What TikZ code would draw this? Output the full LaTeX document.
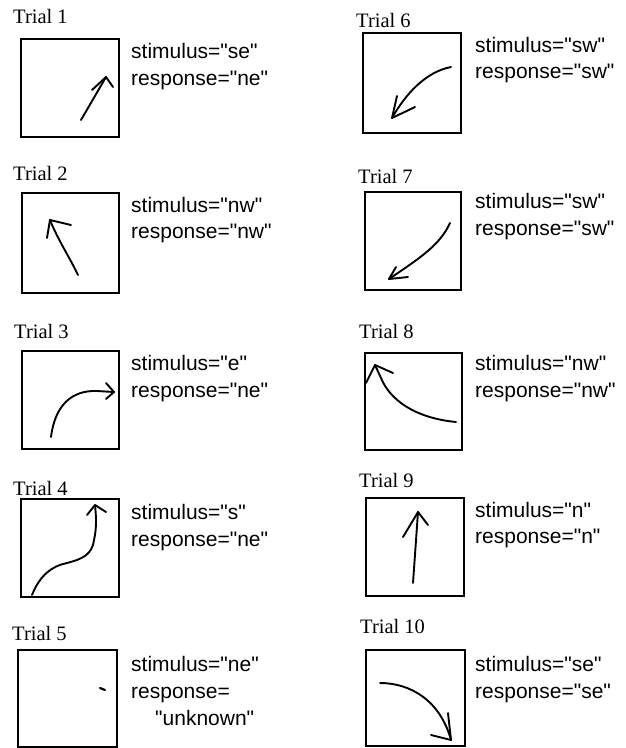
\documentclass[tikz,border=0pt]{standalone}
\usepackage{fontspec}
\setmainfont{Liberation Serif}
\setsansfont{Liberation Sans}[Ligatures=TeXOff]
\begin{document}
\begin{tikzpicture}[x=1pt,y=-1pt,
  panel/.style={draw=black,line width=1.5pt,inner sep=0pt,outer sep=0pt,anchor=north west},
  trial/.style={anchor=base west,inner sep=0pt,font=\fontsize{20.5}{24}\selectfont},
  info/.style={anchor=base west,inner sep=0pt,font=\sffamily\fontsize{21}{26}\selectfont},
  pen/.style={line width=1.9pt,line cap=round,line join=round}]
\useasboundingbox (0,0) rectangle (626,748);
% ---------- left column ----------
\node[trial] (t1) at (13,23) {Trial 1};
\node[panel,minimum width=98pt,minimum height=98pt] (b1) at (21,39) {};
\node[info] (s1) at (131,58) {stimulus="se"};
\node[info] (r1) at (131,85) {response="ne"};
\draw[pen] (81,120) -- (106,77);
\draw[pen] (92,90) -- (106,77) -- (113,87);

\node[trial] (t2) at (13,180) {Trial 2};
\node[panel,minimum width=97pt,minimum height=100pt] (b2) at (22,193) {};
\node[info] (s2) at (131,212) {stimulus="nw"};
\node[info] (r2) at (131,238) {response="nw"};
\draw[pen] (78,275) .. controls (70,258) and (58,240) .. (50,220);
\draw[pen] (47,238) -- (50,220) -- (71,225);

\node[trial] (t3) at (14,338) {Trial 3};
\node[panel,minimum width=97pt,minimum height=98pt] (b3) at (22,351) {};
\node[info] (s3) at (131,370) {stimulus="e"};
\node[info] (r3) at (131,397) {response="ne"};
\draw[pen] (51,437) .. controls (55,405) and (72,390) .. (97,391) -- (114,392);
\draw[pen] (106,383) -- (114,392) -- (106,399);

\node[trial] (t4) at (13,495) {Trial 4};
\node[panel,minimum width=98pt,minimum height=98pt] (b4) at (21,499) {};
\node[info] (s4) at (131,519) {stimulus="s"};
\node[info] (r4) at (131,546) {response="ne"};
\draw[pen] (32,595) .. controls (40,575) and (52,566) .. (67,563)
  .. controls (82,559) and (92,555) .. (94,540) .. controls (97,527) and (96,515) .. (95,505);
\draw[pen] (87,515) -- (95,505) -- (106,512);

\node[trial] (t5) at (12,640) {Trial 5};
\node[panel,minimum width=99pt,minimum height=97pt] (b5) at (18,650) {};
\node[info] (s5) at (131,671) {stimulus="ne"};
\node[info] (r5) at (131,698) {response=};
\node[info] (u5) at (155,725) {"unknown"};
\draw[pen,line width=2.2pt] (100,688) -- (105,690);
% ---------- right column ----------
\node[trial] (t6) at (356,27) {Trial 6};
\node[panel,minimum width=98pt,minimum height=100pt] (b6) at (363,33) {};
\node[info] (s6) at (475,52) {stimulus="sw"};
\node[info] (r6) at (475,78) {response="sw"};
\draw[pen] (451,67) .. controls (425,72) and (405,95) .. (392,118);
\draw[pen] (397,96) -- (392,118) -- (415,107);

\node[trial] (t7) at (358,183) {Trial 7};
\node[panel,minimum width=96pt,minimum height=98pt] (b7) at (365,192) {};
\node[info] (s7) at (475,208) {stimulus="sw"};
\node[info] (r7) at (475,235) {response="sw"};
\draw[pen] (450,223) .. controls (440,245) and (420,258) .. (389,279);
\draw[pen] (396,267) -- (389,279) -- (408,277);

\node[trial] (t8) at (359,338) {Trial 8};
\node[panel,minimum width=97pt,minimum height=97pt] (b8) at (365,353) {};
\node[info] (s8) at (475,370) {stimulus="nw"};
\node[info] (r8) at (475,397) {response="nw"};
\draw[pen] (456,422) .. controls (415,418) and (390,400) .. (381,378) -- (375,365);
\draw[pen] (366,383) -- (375,365) -- (393,373);

\node[trial] (t9) at (359,487) {Trial 9};
\node[panel,minimum width=98pt,minimum height=98pt] (b9) at (366,498) {};
\node[info] (s9) at (475,517) {stimulus="n"};
\node[info] (r9) at (475,543) {response="n"};
\draw[pen] (413,583) -- (418,512);
\draw[pen] (403,537) -- (418,512) -- (428,525);

\node[trial] (t10) at (360,633) {Trial 10};
\node[panel,minimum width=99pt,minimum height=96pt] (b10) at (366,650) {};
\node[info] (s10) at (475,671) {stimulus="se"};
\node[info] (r10) at (475,698) {response="se"};
\draw[pen] (380,683) .. controls (410,683) and (440,700) .. (451,740);
\draw[pen] (448,713) -- (451,740) -- (431,735);
\end{tikzpicture}
\end{document}
